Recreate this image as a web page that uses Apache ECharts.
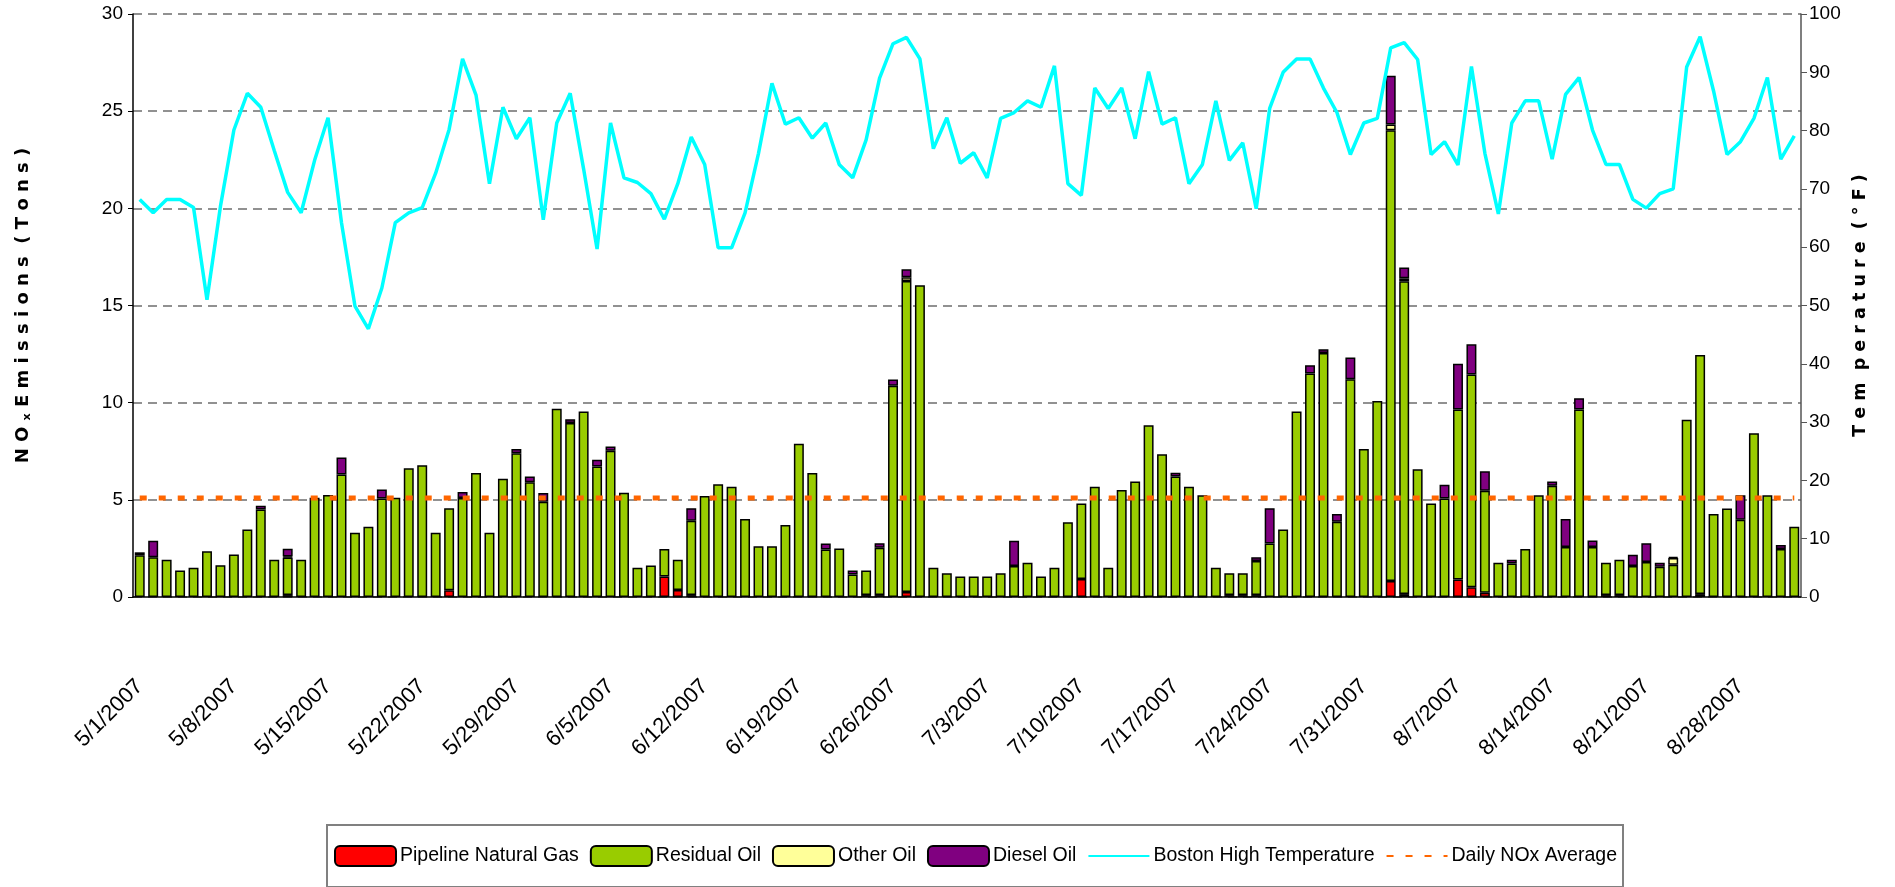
<!DOCTYPE html>
<html>
<head>
<meta charset="utf-8">
<script src="https://cdn.jsdelivr.net/npm/echarts@6/dist/echarts.min.js"></script>
<style>
  html, body { margin: 0; padding: 0; background: #fff; }
  #main { width: 1895px; height: 887px; }
</style>
</head>
<body>
<div id="main"></div>
<script>
// categories: every day from 5/1/2007 to 9/1/2007
var dates = [];
for (var i = 0; i < 124; i++) {
  var d = new Date(2007, 4, 1 + i);
  dates.push((d.getMonth() + 1) + '/' + d.getDate() + '/' + d.getFullYear());
}

// NOx emissions (tons) by fuel
var pipelineGas = [
  0, 0, 0, 0, 0, 0, 0, 0, 0, 0, 0, 0.1, 0, 0, 0, 0, 0, 0, 0, 0,
  0, 0, 0, 0.35, 0, 0, 0, 0, 0, 0, 0, 0, 0, 0, 0, 0, 0, 0, 0, 1.06,
  0.36, 0.1, 0, 0, 0, 0, 0, 0, 0, 0, 0, 0, 0, 0, 0.1, 0.1, 0, 0.26, 0, 0,
  0, 0, 0, 0, 0, 0, 0, 0, 0, 0, 0.92, 0, 0, 0, 0, 0, 0, 0, 0, 0,
  0, 0.1, 0.1, 0.1, 0, 0, 0, 0, 0, 0, 0, 0, 0, 0.82, 0.15, 0, 0, 0, 0.9, 0.5,
  0.22, 0, 0, 0, 0, 0, 0, 0, 0, 0.1, 0.1, 0, 0, 0, 0, 0, 0.15, 0, 0, 0,
  0, 0, 0, 0
];
var residualOil = [
  2.15, 2.05, 1.92, 1.36, 1.5, 2.35, 1.64, 2.19, 3.47, 4.5, 1.92, 1.93, 1.92, 5.11, 5.25, 6.3, 3.31, 3.61, 5.07, 5.11,
  6.62, 6.78, 3.31, 4.22, 5.1, 6.38, 3.31, 6.08, 7.4, 5.9, 4.9, 9.69, 8.95, 9.54, 6.72, 7.52, 5.37, 1.5, 1.62, 1.41,
  1.56, 3.83, 5.2, 5.8, 5.67, 4.01, 2.61, 2.61, 3.71, 7.88, 6.38, 2.45, 2.49, 1.16, 1.26, 2.43, 10.87, 16.0, 16.04, 1.5,
  1.22, 1.06, 1.06, 1.06, 1.22, 1.6, 1.76, 1.06, 1.5, 3.85, 3.89, 5.67, 1.5, 5.51, 5.94, 8.84, 7.34, 6.2, 5.67, 5.23,
  1.5, 1.12, 1.12, 1.75, 2.75, 3.47, 9.54, 11.5, 12.55, 3.87, 11.2, 7.62, 10.09, 23.2, 16.1, 6.58, 4.81, 5.07, 8.75, 10.95,
  5.25, 1.76, 1.72, 2.47, 5.23, 5.72, 2.57, 9.65, 2.57, 1.66, 1.82, 1.6, 1.8, 1.56, 1.66, 9.12, 12.3, 4.27, 4.55, 3.97,
  8.42, 5.23, 2.47, 3.61
];
var otherOil = [
  0, 0, 0, 0, 0, 0, 0, 0, 0, 0, 0, 0.05, 0, 0, 0, 0, 0, 0, 0, 0,
  0, 0, 0, 0, 0, 0, 0, 0, 0, 0, 0, 0, 0, 0, 0, 0, 0, 0, 0, 0,
  0, 0, 0, 0, 0, 0, 0, 0, 0, 0, 0, 0, 0, 0, 0, 0, 0, 0.2, 0, 0,
  0, 0, 0, 0, 0, 0, 0, 0, 0, 0, 0, 0, 0, 0, 0, 0, 0, 0, 0, 0,
  0, 0, 0, 0, 0, 0, 0, 0, 0, 0, 0, 0, 0, 0.3, 0.15, 0, 0, 0, 0, 0,
  0, 0, 0, 0, 0, 0, 0, 0, 0, 0, 0, 0, 0, 0, 0.35, 0, 0, 0, 0, 0,
  0, 0, 0, 0
];
var dieselOil = [
  0.15, 0.85, 0, 0, 0, 0, 0, 0, 0, 0.2, 0, 0.4, 0, 0, 0, 0.88, 0, 0, 0.46, 0,
  0, 0, 0, 0, 0.3, 0, 0, 0, 0.22, 0.3, 0.45, 0, 0.2, 0, 0.34, 0.22, 0, 0, 0, 0,
  0, 0.64, 0, 0, 0, 0, 0, 0, 0, 0, 0, 0.3, 0, 0.2, 0, 0.24, 0.32, 0.4, 0, 0,
  0, 0, 0, 0, 0, 1.3, 0, 0, 0, 0, 0, 0, 0, 0, 0, 0, 0, 0.2, 0, 0,
  0, 0, 0, 0.2, 1.82, 0, 0, 0.43, 0.2, 0.4, 1.13, 0, 0, 2.5, 0.55, 0, 0, 0.7, 2.35, 1.55,
  1.0, 0, 0.2, 0, 0, 0.22, 1.44, 0.58, 0.34, 0, 0, 0.57, 0.97, 0.2, 0.05, 0, 0, 0, 0, 1.26,
  0, 0, 0.2, 0
];

// Boston high temperature (°F)
var bostonHigh = [
  68.2, 65.9, 68.2, 68.2, 66.8, 51.0, 67.0, 80.1, 86.4, 84.0, 76.6, 69.4, 65.9, 74.9, 82.2, 64.2, 49.9, 46.0, 53.0, 64.2,
  65.9, 66.8, 72.7, 80.2, 92.3, 86.1, 70.9, 84.0, 78.6, 82.2, 64.7, 81.3, 86.4, 73.4, 59.7, 81.3, 71.9, 71.1, 69.2, 64.8,
  70.9, 78.9, 74.2, 59.9, 59.9, 65.9, 76.1, 88.1, 81.1, 82.2, 78.7, 81.3, 74.2, 71.9, 78.4, 89.0, 94.9, 96.0, 92.3, 76.9,
  82.2, 74.4, 76.2, 71.9, 82.1, 83.1, 85.1, 84.0, 91.1, 70.9, 68.9, 87.3, 83.8, 87.3, 78.6, 90.1, 81.1, 82.2, 70.9, 74.2,
  85.1, 74.9, 77.9, 66.6, 83.8, 90.0, 92.3, 92.3, 87.3, 83.1, 75.9, 81.3, 82.1, 94.2, 95.1, 92.2, 75.9, 78.1, 74.1, 91.0,
  76.1, 65.7, 81.3, 85.1, 85.1, 75.1, 86.2, 89.1, 80.1, 74.2, 74.2, 68.2, 66.7, 69.2, 70.0, 90.9, 96.1, 86.8, 75.9, 78.1,
  82.1, 89.1, 75.1, 79.1
];

// daily NOx average (tons)
var dailyNoxAverage = 5.1;

var FONT = "'Liberation Sans', Arial, sans-serif";
var TITLE_FONT = "'DejaVu Sans', 'Liberation Sans', sans-serif";

function noZero(arr) {
  return arr.map(function (v) { return v === 0 ? '-' : v; });
}

function barSeries(name, data, color) {
  return {
    name: name,
    type: 'bar',
    stack: 'nox',
    data: noZero(data),
    barCategoryGap: '26%',
    itemStyle: { color: color, borderColor: '#000', borderWidth: 1.5 },
    z: 2
  };
}

var chart = echarts.init(document.getElementById('main'), null, { renderer: 'canvas' });

var noSymbol = { color: 'rgba(0,0,0,0)', borderWidth: 0 };

var option = {
  animation: false,
  backgroundColor: '#fff',
  grid: { left: 133, right: 94, top: 14, bottom: 290 },
  legend: {
    top: 825,
    left: 327,
    padding: [20, 6, 20, 7],
    borderColor: '#808080',
    borderWidth: 2,
    itemWidth: 61,
    itemHeight: 20,
    itemGap: 11,
    textStyle: { fontFamily: FONT, fontSize: 19.5, color: '#000', padding: [0, 0, 0, -1] },
    data: [
      'Pipeline Natural Gas', 'Residual Oil', 'Other Oil', 'Diesel Oil',
      { name: 'Boston High Temperature', itemStyle: noSymbol },
      { name: 'Daily NOx Average', itemStyle: noSymbol }
    ]
  },
  xAxis: {
    type: 'category',
    data: dates,
    boundaryGap: true,
    axisLine: { lineStyle: { color: '#000', width: 1.5 } },
    axisTick: { interval: 6, length: 10, lineStyle: { color: '#555' } },
    axisLabel: {
      interval: 6,
      rotate: 45,
      margin: 86,
      color: '#000',
      fontFamily: FONT,
      fontSize: 22
    },
    splitLine: { show: false }
  },
  yAxis: [
    {
      type: 'value',
      min: 0, max: 30, interval: 5,
      name: '{t|N O }{s|x}{t| E m i s s i o n s  ( T o n s )}',
      nameLocation: 'middle',
      nameGap: 100,
      nameTextStyle: {
        rich: {
          t: { fontFamily: TITLE_FONT, fontSize: 18, fontWeight: 'bold', color: '#000' },
          s: { fontFamily: TITLE_FONT, fontSize: 11, fontWeight: 'bold', color: '#000', padding: [9, 0, 0, 0] }
        }
      },
      axisLine: { show: true, lineStyle: { color: '#000', width: 1.5 } },
      axisTick: { show: true, length: 5, lineStyle: { color: '#000' } },
      axisLabel: { color: '#000', fontFamily: FONT, fontSize: 19, margin: 10 },
      splitLine: { show: true, lineStyle: { color: '#6e6e6e', type: [9, 6], width: 1.5 } }
    },
    {
      type: 'value',
      min: 0, max: 100, interval: 10,
      position: 'right',
      name: 'T e m  p e r a t u r e  ( ° F )',
      nameLocation: 'middle',
      nameGap: 50,
      nameTextStyle: { fontFamily: TITLE_FONT, fontSize: 17.5, fontWeight: 'bold', color: '#000' },
      axisLine: { show: true, lineStyle: { color: '#555', width: 1.5 } },
      axisTick: { show: true, length: 6, lineStyle: { color: '#555' } },
      axisLabel: { color: '#000', fontFamily: FONT, fontSize: 19, margin: 8 },
      splitLine: { show: false }
    }
  ],
  series: [
    barSeries('Pipeline Natural Gas', pipelineGas, '#FF0000'),
    barSeries('Residual Oil', residualOil, '#99CC00'),
    barSeries('Other Oil', otherOil, '#FFFF99'),
    barSeries('Diesel Oil', dieselOil, '#800080'),
    {
      name: 'Boston High Temperature',
      type: 'line',
      yAxisIndex: 1,
      data: bostonHigh,
      symbol: 'none',
      lineStyle: { color: '#00FFFF', width: 3.5 },
      itemStyle: { color: '#00FFFF' },
      z: 4
    },
    {
      name: 'Daily NOx Average',
      type: 'line',
      yAxisIndex: 0,
      data: dates.map(function () { return dailyNoxAverage; }),
      symbol: 'none',
      lineStyle: { color: '#FF6600', width: 5, type: [7, 12] },
      itemStyle: { color: '#FF6600' },
      z: 5
    }
  ]
};

chart.setOption(option);
</script>
</body>
</html>
